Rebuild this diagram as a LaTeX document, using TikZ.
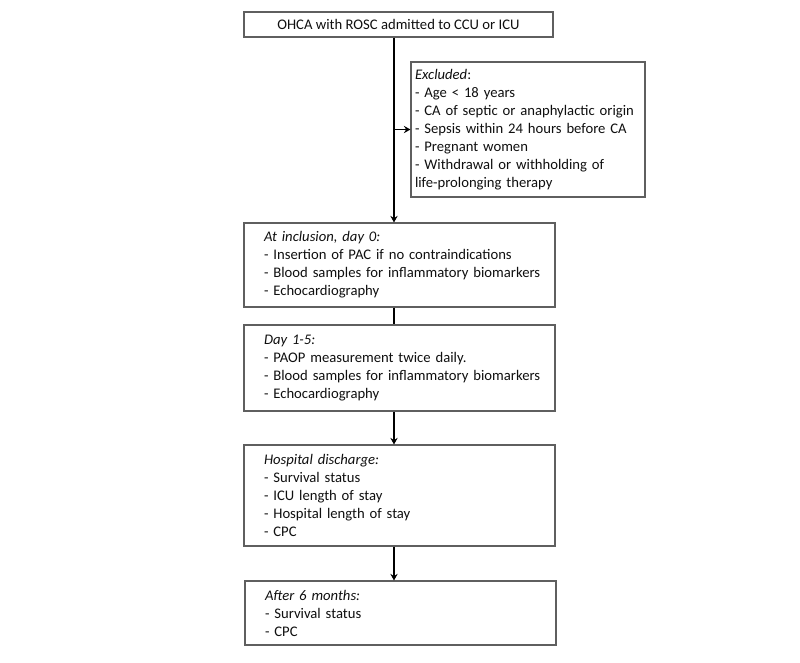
\documentclass[tikz,border=0pt]{standalone}
\usepackage{fontspec}
\setmainfont{Carlito}
\usepackage{tikz}
\usetikzlibrary{arrows.meta}
\definecolor{boxgray}{RGB}{95,95,95}
\definecolor{inkgray}{RGB}{15,15,15}
\newcommand{\stagepad}{\leftskip=9pt\relax}

\begin{document}
\begin{tikzpicture}[x=0.75pt, y=-0.75pt, >={Stealth[length=5pt,width=5.5pt,inset=1.8pt]},
    every node/.style={font=\fontsize{11}{13.5}\selectfont, text=inkgray},
    flowbox/.style={draw=boxgray, line width=0.8pt, rectangle},
    stagebox/.style={flowbox, align=left, text width=221.25pt, inner xsep=6pt, inner ysep=2pt},
    link/.style={line width=1.2pt, black}]
    \useasboundingbox (0,0) rectangle (800,662);
    \coordinate (spine) at (394,0);
    % boxes
    \node[flowbox, minimum width=231.75pt, minimum height=18.75pt, inner sep=0pt] (top) at (398.5,24.5) {OHCA with ROSC admitted to CCU or ICU};
    \node[flowbox, align=left, text width=169.5pt, inner xsep=3pt, minimum height=101.25pt] (excl) at (528,129.5)
        {\hyphenpenalty=10000\textit{Excluded}:\\- Age < 18 years\\- CA of septic or anaphylactic origin\\- Sepsis within 24 hours before CA\\- Pregnant women\\- Withdrawal or withholding of\\life-prolonging therapy};
    \node[stagebox, minimum height=63pt] (incl) at (399.5,265)
        {\stagepad\textit{At inclusion, day 0:}\\- Insertion of PAC if no contraindications\\- Blood samples for inflammatory biomarkers\\- Echocardiography\par};
    \node[stagebox, minimum height=64.5pt] (day) at (399.5,368)
        {\stagepad\textit{Day 1-5:}\\- PAOP measurement twice daily.\\- Blood samples for inflammatory biomarkers\\- Echocardiography\par};
    \node[stagebox, minimum height=75.75pt] (hosp) at (399.5,495.5)
        {\stagepad\textit{Hospital discharge:}\\- Survival status\\- ICU length of stay\\- Hospital length of stay\\- CPC\par};
    \node[stagebox, minimum height=48pt] (after) at (400.5,613)
        {\stagepad\textit{After 6 months:}\\- Survival status\\- CPC\par};
    % connectors
    \draw[link, ->] (top.south -| spine) -- (incl.north -| spine);
    \draw[link, ->] (spine |- excl.west) -- (excl.west);
    \draw[link] (incl.south -| spine) -- (day.north -| spine);
    \draw[link, ->] (day.south -| spine) -- (hosp.north -| spine);
    \draw[link, ->] (hosp.south -| spine) -- (after.north -| spine);
\end{tikzpicture}
\end{document}
